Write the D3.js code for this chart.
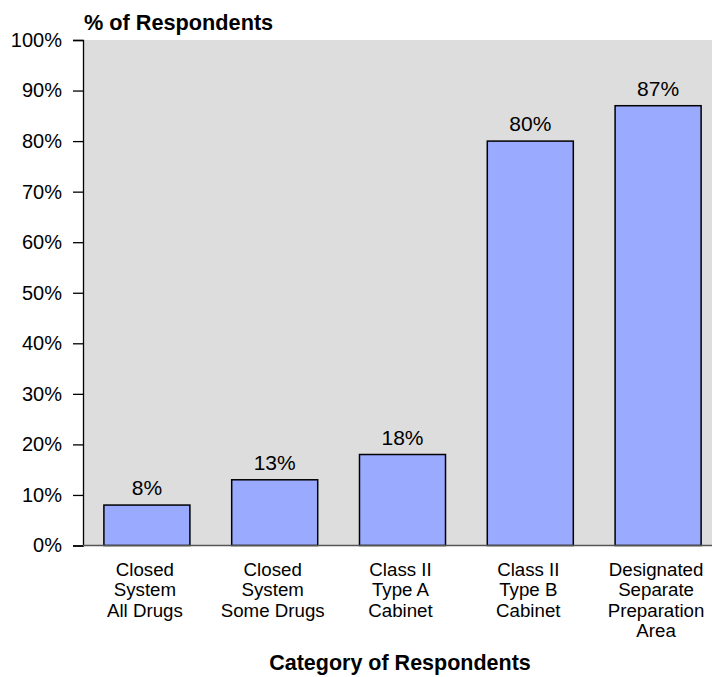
<!DOCTYPE html>
<html>
<head>
<meta charset="utf-8">
<script src="https://cdn.jsdelivr.net/npm/d3@7"></script>
<style>
  html, body { margin: 0; padding: 0; background: #fff; }
  svg { display: block; font-family: "Liberation Sans", Arial, sans-serif; }
</style>
</head>
<body>
<svg id="chart" width="712" height="677"></svg>
<script>
// Share of respondents using each containment method
const categories = [
  ["Closed", "System", "All Drugs"],
  ["Closed", "System", "Some Drugs"],
  ["Class II", "Type A", "Cabinet"],
  ["Class II", "Type B", "Cabinet"],
  ["Designated", "Separate", "Preparation", "Area"]
];
const categoryKeys = ["closedAll", "closedSome", "typeA", "typeB", "separateArea"];
const values = [8, 13, 18, 80, 87];
const yTicks = [0, 10, 20, 30, 40, 50, 60, 70, 80, 90, 100];

const svg = d3.select("#chart");
const plotLeft = 83, plotTop = 40, plotBottom = 545.5, plotWidth = 639;

const x = d3.scaleBand()
  .domain(categoryKeys)
  .range([plotLeft, plotLeft + plotWidth])
  .paddingInner(0.327)
  .paddingOuter(0.1635);

const y = d3.scaleLinear().domain([0, 100]).range([plotBottom, plotTop]);

// plot background
svg.append("rect")
  .attr("x", plotLeft).attr("y", plotTop)
  .attr("width", plotWidth).attr("height", plotBottom - plotTop)
  .attr("fill", "#dddddd");

// y axis
const yAxis = svg.append("g")
  .attr("transform", `translate(${plotLeft},0)`)
  .call(d3.axisLeft(y).tickValues(yTicks).tickSize(10).tickPadding(11)
    .tickFormat(d => d + "%"));
yAxis.select(".domain").attr("stroke", "#000").attr("stroke-width", 1.3);
yAxis.selectAll(".tick line").attr("stroke", "#000").attr("stroke-width", 1.3);
yAxis.selectAll(".tick text")
  .attr("font-size", 20).attr("fill", "#000")
  .attr("font-family", "'Liberation Sans', Arial, sans-serif");

// bars
svg.append("g").selectAll("rect")
  .data(values)
  .join("rect")
  .attr("x", (d, i) => x(categoryKeys[i]))
  .attr("y", d => y(d))
  .attr("width", x.bandwidth())
  .attr("height", d => y(0) - y(d))
  .attr("fill", "#99aaff")
  .attr("stroke", "#000")
  .attr("stroke-width", 1.5);

// baseline at 0%
svg.append("line")
  .attr("x1", plotLeft).attr("x2", plotLeft + plotWidth)
  .attr("y1", y(0)).attr("y2", y(0))
  .attr("stroke", "#555").attr("stroke-width", 1.5);

// value labels
svg.append("g").selectAll("text")
  .data(values)
  .join("text")
  .attr("x", (d, i) => x(categoryKeys[i]) + x.bandwidth() / 2)
  .attr("y", d => y(d) - 10)
  .attr("text-anchor", "middle")
  .attr("font-size", 21)
  .attr("fill", "#000")
  .text(d => d + "%");

// category labels
const catG = svg.append("g");
categories.forEach((lines, i) => {
  const cx = x(categoryKeys[i]) + x.bandwidth() / 2 - 2;
  const t = catG.append("text")
    .attr("x", cx)
    .attr("y", 576)
    .attr("text-anchor", "middle")
    .attr("font-size", 18.7)
    .attr("fill", "#000");
  lines.forEach((line, j) => {
    t.append("tspan")
      .attr("x", cx)
      .attr("y", 576 + j * 20.3)
      .text(line);
  });
});

// axis titles
svg.append("text")
  .attr("x", 84).attr("y", 30)
  .attr("font-size", 21.7).attr("font-weight", "bold")
  .attr("fill", "#000")
  .text("% of Respondents");

svg.append("text")
  .attr("x", 400).attr("y", 670)
  .attr("text-anchor", "middle")
  .attr("font-size", 21.5).attr("font-weight", "bold")
  .attr("fill", "#000")
  .text("Category of Respondents");
</script>
</body>
</html>
